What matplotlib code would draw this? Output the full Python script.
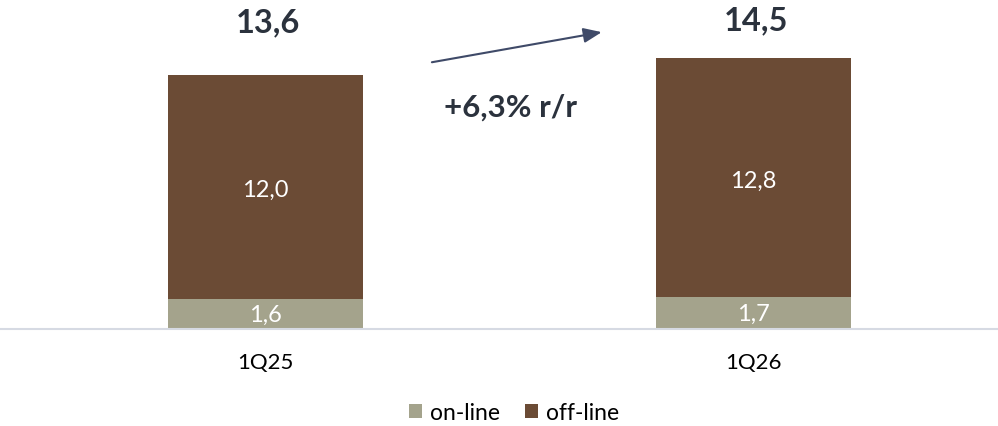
import matplotlib
matplotlib.use("Agg")
import matplotlib.pyplot as plt

plt.rcParams["font.family"] = ["Lato", "DejaVu Sans"]

# === dane ===
quarters = ["1Q25", "1Q26"]
online = [1.6, 1.7]
offline = [12.0, 12.8]
totals = [13.6, 14.5]
growth_label = "+6,3% r/r"

C_ON = "#a4a38c"
C_OFF = "#6b4b35"
C_TXT = "#2b323d"
C_ARROW = "#3f4a68"


def fmt(v):
    return f"{v:.1f}".replace(".", ",")


fig = plt.figure(figsize=(9.98, 4.26), dpi=100)
ax = fig.add_axes([0, 97 / 426, 1, 329 / 426])

x = list(range(len(quarters)))
w = 0.4
ax.bar(x, online, width=w, color=C_ON, label="on-line", zorder=2)
ax.bar(x, offline, width=w, bottom=online, color=C_OFF, label="off-line", zorder=2)

# sumy nad słupkami – stała wysokość
total_y = [16.4, 16.5]

for i in x:
    ax.text(i, online[i] / 2 - 0.08, fmt(online[i]), ha="center", va="center",
            color="white", fontsize=17)
    ax.text(i, online[i] + offline[i] / 2 - 0.18, fmt(offline[i]), ha="center", va="center",
            color="white", fontsize=17)
    ax.text(i + 0.005, total_y[i], fmt(totals[i]), ha="center", va="center",
            color=C_TXT, fontsize=23.5, fontweight="bold")
    ax.text(i, -1.8, quarters[i], ha="center", va="center", color="black", fontsize=16)

# strzałka wzrostu
ax.annotate("", xy=(0.689, 15.88), xytext=(0.341, 14.27),
            arrowprops=dict(arrowstyle="-|>,head_length=1.1,head_width=0.45",
                            color=C_ARROW, lw=1.5, shrinkA=0, shrinkB=0))
ax.text(0.503, 11.85, growth_label, ha="center", va="center",
        color=C_TXT, fontsize=22.5, fontweight="bold")

ax.set_xlim(-0.544, 1.501)
ax.set_ylim(0, 17.6)
ax.set_xticks([])
ax.set_yticks([])
for s in ["top", "left", "right"]:
    ax.spines[s].set_visible(False)
ax.spines["bottom"].set_color("#d6dae3")
ax.spines["bottom"].set_linewidth(1.5)

leg = fig.legend(loc="center", bbox_to_anchor=(0.515, 13 / 426), ncol=2, frameon=False,
                 fontsize=16.5, handlelength=0.55, handleheight=0.55, handletextpad=0.35,
                 columnspacing=1.1)

fig.savefig("out.png", dpi=100)
